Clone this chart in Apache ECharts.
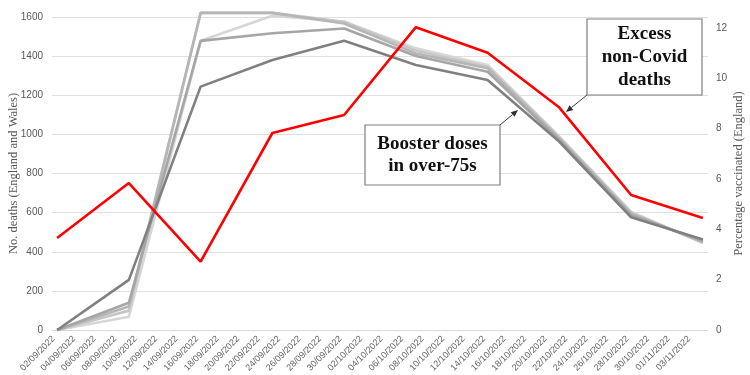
<!DOCTYPE html>
<html><head><meta charset="utf-8">
<script src="https://cdn.jsdelivr.net/npm/echarts@6/dist/echarts.min.js"></script>
<style>html,body{margin:0;padding:0;background:#fff}#c{width:750px;height:375px}</style>
</head><body><div id="c"></div>
<script>
// Daily category axis 02/09/2022 .. 04/11/2022 (64 days)
const firstDay = { y: 2022, m: 9, d: 2 };
const dayCount = 64;
function pad(n){ return (n < 10 ? '0' : '') + n; }
const categories = [];
for (let i = 0; i < dayCount; i++) {
  const dt = new Date(Date.UTC(firstDay.y, firstDay.m - 1, firstDay.d + i));
  categories.push(pad(dt.getUTCDate()) + '/' + pad(dt.getUTCMonth() + 1) + '/' + dt.getUTCFullYear());
}

// Weekly observation dates
const weekDates = ['02/09/2022','09/09/2022','16/09/2022','23/09/2022','30/09/2022',
                   '07/10/2022','14/10/2022','21/10/2022','28/10/2022','04/11/2022'];

// Excess non-Covid deaths (left axis)
const excessDeaths = [470, 751, 349, 1007, 1099, 1548, 1417, 1137, 690, 572];

// Booster doses, percentage vaccinated (right axis), five over-75 groups
const boosterA = [0, 1.99, 9.67, 10.73, 11.49, 10.53, 9.93, 7.48, 4.48, 3.60];
const boosterB = [0, 1.08, 11.49, 11.79, 11.98, 10.89, 10.26, 7.55, 4.56, 3.55];
const boosterC = [0, 0.93, 12.60, 12.60, 12.18, 10.99, 10.40, 7.60, 4.62, 3.50];
const boosterD = [0, 0.77, 12.60, 12.60, 12.25, 11.10, 10.45, 7.65, 4.66, 3.47];
const boosterE = [0, 0.53, 11.49, 12.49, 12.25, 11.19, 10.53, 7.68, 4.70, 3.45];

const leftAxisMax = 1600, leftAxisStep = 200;
const rightAxisStep = 2, rightAxisTopLabel = 12;

const weekIdx = weekDates.map(d => categories.indexOf(d));
function pairs(vals){ return vals.map((v, i) => [weekIdx[i], v]); }

const grid = { left: 52, right: 42, top: 17, bottom: 45, outerBoundsMode: 'none', containLabel: false };
// right axis: 12 sits at y=28 while 1600 (left) sits at grid top y=17
const rightAxisMax = rightAxisTopLabel * (375 - grid.bottom - grid.top) / (375 - grid.bottom - 28);

const labelFont = 'Liberation Sans';
const greyTxt = '#595959';

function gSeries(name, vals, color){
  return { name, type: 'line', yAxisIndex: 1, data: pairs(vals), symbol: 'none', clip: false,
    lineStyle: { color, width: 2.6 }, itemStyle: { color }, z: 2 };
}

function arrow(x1, y1, x2, y2){
  const ang = Math.atan2(y2 - y1, x2 - x1), L = 7, W = 3;
  const bx = x2 - L * Math.cos(ang), by = y2 - L * Math.sin(ang);
  const px = -Math.sin(ang) * W, py = Math.cos(ang) * W;
  return [
    { type: 'line', shape: { x1, y1, x2: bx, y2: by }, style: { stroke: '#404040', lineWidth: 1 }, z: 10 },
    { type: 'polygon', shape: { points: [[x2, y2], [bx + px, by + py], [bx - px, by - py]] }, style: { fill: '#303030' }, z: 10 }
  ];
}

function box(x, y, w, h, lines, lh){
  const els = [{ type: 'rect', shape: { x, y, width: w, height: h }, style: { fill: '#fff', stroke: '#7f7f7f', lineWidth: 1.2 }, z: 10 }];
  const cy = y + h / 2, n = lines.length;
  lines.forEach((t, i) => {
    els.push({ type: 'text', x: x + w / 2, y: cy + (i - (n - 1) / 2) * lh, z: 11,
      style: { text: t, align: 'center', verticalAlign: 'middle', fill: '#111',
        font: 'bold 19px "Liberation Serif", serif' } });
  });
  return els;
}

const chart = echarts.init(document.getElementById('c'), null, { renderer: 'canvas' });
chart.setOption({
  animation: false,
  backgroundColor: '#fff',
  grid,
  xAxis: {
    type: 'category', data: categories, boundaryGap: true,
    axisLine: { lineStyle: { color: '#d9d9d9', width: 1 } },
    axisTick: { interval: 1, length: 5, lineStyle: { color: '#d9d9d9' } },
    axisLabel: { interval: 1, rotate: 45, fontSize: 9, color: '#666', fontFamily: labelFont, margin: 4,
      formatter: v => '{d|' + v + '}',
      rich: { d: { fontSize: 9, color: '#666', fontFamily: labelFont, padding: [0, 5, 0, 0] } } },
    splitLine: { show: false }
  },
  yAxis: [
    { type: 'value', min: 0, max: leftAxisMax, interval: leftAxisStep, position: 'left',
      name: 'No. deaths (England and Wales)', nameLocation: 'middle', nameRotate: 90, nameGap: 32,
      nameMoveOverlap: false,
      nameTextStyle: { fontFamily: 'Liberation Serif', fontSize: 12.5, color: greyTxt },
      axisLine: { show: false }, axisTick: { show: false },
      axisLabel: { color: greyTxt, fontSize: 10, fontFamily: labelFont, margin: 9, formatter: v => String(v) },
      splitLine: { lineStyle: { color: '#e0e0e0', width: 1 } } },
    { type: 'value', min: 0, max: rightAxisMax, interval: rightAxisStep, position: 'right',
      name: 'Percentage vaccinated (England)', nameLocation: 'middle', nameRotate: 90, nameGap: 24,
      nameMoveOverlap: false,
      nameTextStyle: { fontFamily: 'Liberation Serif', fontSize: 12.5, color: greyTxt },
      axisLine: { show: false }, axisTick: { show: false },
      axisLabel: { color: greyTxt, fontSize: 10, fontFamily: labelFont, margin: 8, showMaxLabel: false,
        formatter: v => (Math.abs(v - Math.round(v)) < 1e-6 && Math.round(v) % rightAxisStep === 0) ? String(Math.round(v)) : '' },
      splitLine: { show: false } }
  ],
  series: [
    gSeries('Booster E', boosterE, '#d6d6d6'),
    gSeries('Booster D', boosterD, '#c6c6c6'),
    gSeries('Booster C', boosterC, '#b6b6b6'),
    gSeries('Booster B', boosterB, '#a6a6a6'),
    gSeries('Booster A', boosterA, '#808080'),
    { name: 'Excess non-Covid deaths', type: 'line', yAxisIndex: 0, data: pairs(excessDeaths), symbol: 'none',
      lineStyle: { color: '#ff0000', width: 2.6 }, itemStyle: { color: '#ff0000' }, z: 3 }
  ],
  graphic: [
    ...box(365, 125, 135, 60, ['Booster doses', 'in over-75s'], 22),
    ...arrow(500, 125, 518, 110),
    ...box(587, 19, 115, 76, ['Excess', 'non-Covid', 'deaths'], 23),
    ...arrow(587, 95, 566, 112)
  ]
});
</script></body></html>
